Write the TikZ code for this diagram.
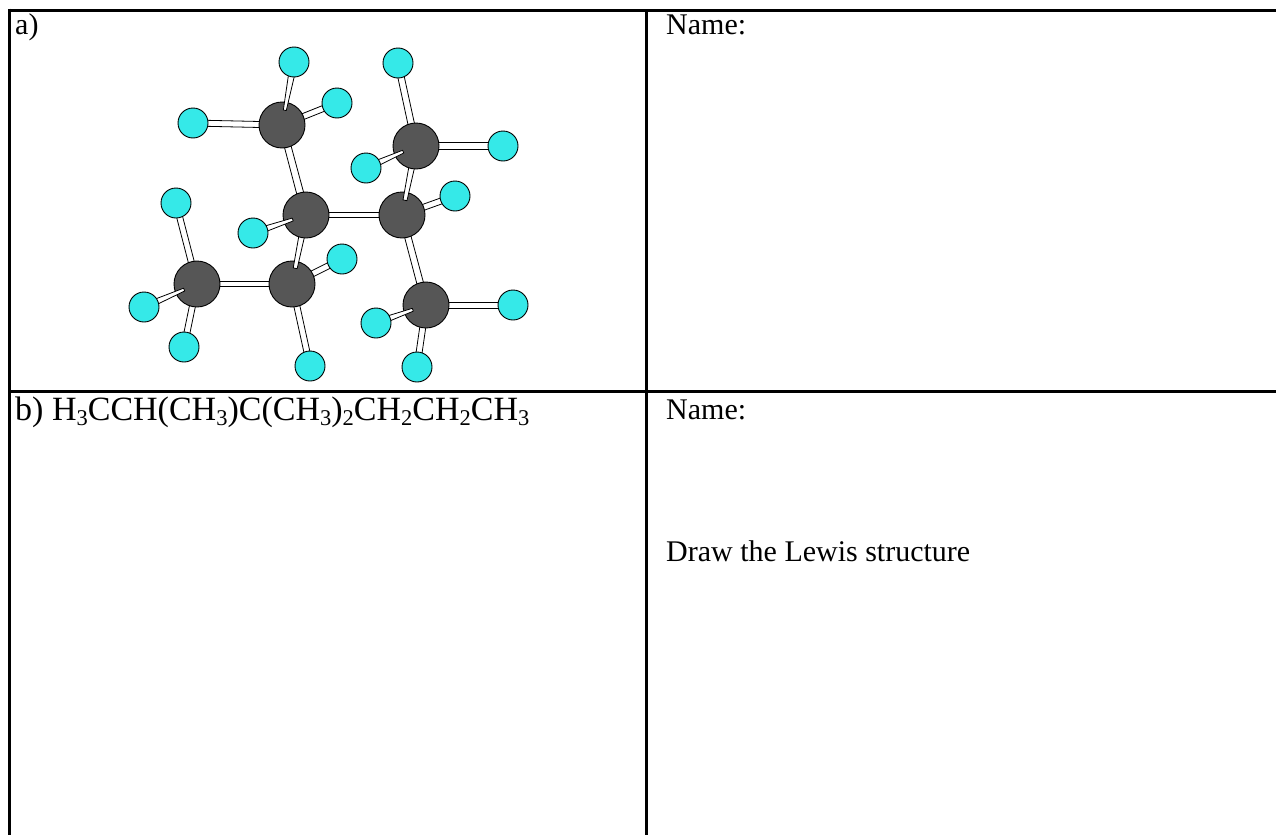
\documentclass[tikz,border=0pt]{standalone}
\usepackage{fontspec}
\setmainfont{Liberation Serif}
\usetikzlibrary{calc}
\definecolor{cgray}{RGB}{86,86,86}
\definecolor{hcyan}{RGB}{53,233,232}
% lowered, smaller digit for chemical formulas
\newcommand\chsub[1]{\raisebox{-5pt}{\fontsize{22.5}{22.5}\selectfont #1}}
% tapered stick bond: from, to, half-width at start, half-width at end, offset of start from the first atom
\newcommand\bond[5]{%
  \coordinate (bA) at ($(#1)!#5!(#2)$);
  \draw[bondline] ($(bA)!#3!90:(#2)$) -- ($(#2)!#4!-90:(bA)$)
    -- ($(#2)!#4!90:(bA)$) -- ($(bA)!#3!-90:(#2)$) -- cycle;
}
\begin{document}
\begin{tikzpicture}[x=1pt,y=-1pt,
  carbon/.style={circle,draw=black,line width=0.9pt,fill=cgray,minimum size=46pt,inner sep=0pt},
  hydrogen/.style={circle,draw=black,line width=0.9pt,fill=hcyan,minimum size=30pt,inner sep=0pt},
  bondline/.style={draw=black,fill=white,line width=0.8pt,line join=round},
  rule/.style={line width=3pt},
  celltext/.style={anchor=base west,inner sep=0pt,font=\fontsize{30}{36}\selectfont},
  formula/.style={anchor=base west,inner sep=0pt,font=\fontsize{34}{40}\selectfont}]
\useasboundingbox (0,0) rectangle (1276,835);

% table rules
\draw[rule] (8,10) -- (1276,10);
\draw[rule] (9.5,8.5) -- (9.5,835);
\draw[rule] (646,10) -- (646,835);
\draw[rule] (9.5,391) -- (1276,391);

% cell texts
\node[celltext] (ta) at (15,34) {a)};
\node[celltext] (na) at (666,34) {Name:};
\node[formula] (tb) at (15,420) {b) H\chsub{3}CCH(CH\chsub{3})C(CH\chsub{3})\chsub{2}CH\chsub{2}CH\chsub{2}CH\chsub{3}};
\node[celltext] (nb) at (666,419) {Name:};
\node[celltext] (dl) at (666,561) {Draw the Lewis structure};

% atom positions
\coordinate (c1) at (282,125);
\coordinate (c2) at (306,215);
\coordinate (c3) at (416,146);
\coordinate (c4) at (402,215);
\coordinate (c5) at (197,284);
\coordinate (c6) at (292,284);
\coordinate (c7) at (426,305);
\coordinate (h1a) at (294,62);
\coordinate (h1b) at (193,123);
\coordinate (h1c) at (337,103);
\coordinate (h2) at (253,233);
\coordinate (h3a) at (398,63);
\coordinate (h3b) at (503,146);
\coordinate (h3c) at (366,168);
\coordinate (h4) at (455,196);
\coordinate (h5a) at (176,203);
\coordinate (h5b) at (144,307);
\coordinate (h5c) at (184,347);
\coordinate (h6a) at (342,259);
\coordinate (h6b) at (310,366);
\coordinate (h7a) at (513,305);
\coordinate (h7b) at (376,323);
\coordinate (h7c) at (417,367);

% bonds lying behind the atoms
\bond{c1}{c2}{3.3pt}{3.6pt}{0pt}
\bond{c2}{c4}{2.6pt}{2.6pt}{0pt}
\bond{c4}{c7}{3.2pt}{3.4pt}{0pt}
\bond{c5}{c6}{2.6pt}{2.6pt}{0pt}
\bond{c1}{h1b}{3pt}{3pt}{0pt}
\bond{c1}{h1c}{3pt}{3pt}{0pt}
\bond{c3}{h3a}{3.3pt}{3.2pt}{0pt}
\bond{c3}{h3b}{3.2pt}{3.2pt}{0pt}
\bond{c4}{h4}{3pt}{3pt}{0pt}
\bond{c5}{h5a}{3pt}{3pt}{0pt}
\bond{c5}{h5c}{3pt}{3pt}{0pt}
\bond{c6}{h6a}{3pt}{3pt}{0pt}
\bond{c6}{h6b}{3pt}{3pt}{0pt}
\bond{c7}{h7a}{3pt}{3pt}{0pt}
\bond{c7}{h7c}{3pt}{3pt}{0pt}

% carbons at the back
\node[carbon] (C4) at (c4) {};
\node[carbon] (C6) at (c6) {};

% C-C bonds passing in front of C4 and C6
\bond{C4}{c3}{2pt}{3.4pt}{15pt}
\bond{C6}{c2}{2pt}{3.4pt}{16pt}

% remaining carbons
\node[carbon] (C1) at (c1) {};
\node[carbon] (C2) at (c2) {};
\node[carbon] (C3) at (c3) {};
\node[carbon] (C5) at (c5) {};
\node[carbon] (C7) at (c7) {};

% C-H bonds in front of their carbons
\bond{C1}{h1a}{1.5pt}{3.6pt}{15pt}
\bond{C2}{h2}{1.5pt}{3.4pt}{14pt}
\bond{C3}{h3c}{1.5pt}{3.4pt}{14pt}
\bond{C5}{h5b}{1.5pt}{3.4pt}{14pt}
\bond{C7}{h7b}{1.5pt}{3.4pt}{14pt}

% hydrogens
\foreach \h in {h1a,h1b,h1c,h2,h3a,h3b,h3c,h4,h5a,h5b,h5c,h6a,h6b,h7a,h7b,h7c}
  \node[hydrogen] (H-\h) at (\h) {};
\end{tikzpicture}
\end{document}
